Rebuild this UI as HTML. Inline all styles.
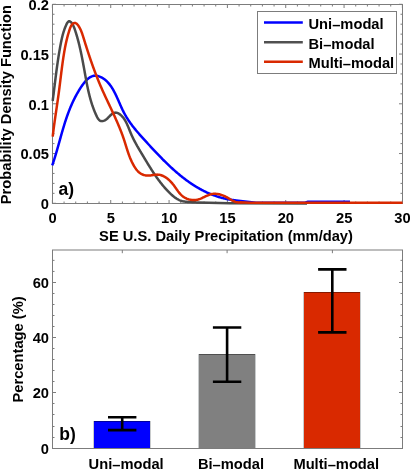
<!DOCTYPE html>
<html><head><meta charset="utf-8"><style>
html,body{margin:0;padding:0;background:#fff;overflow:hidden;font-family:"Liberation Sans",sans-serif}
svg{display:block;will-change:transform}
</style></head><body>
<svg width="410" height="469" viewBox="0 0 410 469">
<rect width="410" height="469" fill="#fff"/>
<path d="M52.4,203.5v-3.5M52.4,4.5v3.5M64.07,203.5v-2M64.07,4.5v2M75.73,203.5v-2M75.73,4.5v2M87.4,203.5v-2M87.4,4.5v2M99.07,203.5v-2M99.07,4.5v2M110.73,203.5v-3.5M110.73,4.5v3.5M122.4,203.5v-2M122.4,4.5v2M134.07,203.5v-2M134.07,4.5v2M145.73,203.5v-2M145.73,4.5v2M157.4,203.5v-2M157.4,4.5v2M169.07,203.5v-3.5M169.07,4.5v3.5M180.73,203.5v-2M180.73,4.5v2M192.4,203.5v-2M192.4,4.5v2M204.07,203.5v-2M204.07,4.5v2M215.73,203.5v-2M215.73,4.5v2M227.4,203.5v-3.5M227.4,4.5v3.5M239.07,203.5v-2M239.07,4.5v2M250.73,203.5v-2M250.73,4.5v2M262.4,203.5v-2M262.4,4.5v2M274.07,203.5v-2M274.07,4.5v2M285.73,203.5v-3.5M285.73,4.5v3.5M297.4,203.5v-2M297.4,4.5v2M309.07,203.5v-2M309.07,4.5v2M320.73,203.5v-2M320.73,4.5v2M332.4,203.5v-2M332.4,4.5v2M344.07,203.5v-3.5M344.07,4.5v3.5M355.73,203.5v-2M355.73,4.5v2M367.4,203.5v-2M367.4,4.5v2M379.07,203.5v-2M379.07,4.5v2M390.73,203.5v-2M390.73,4.5v2M402.4,203.5v-3.5M402.4,4.5v3.5M52.5,203.3h3.5M402.5,203.3h-3.5M52.5,193.35h2M402.5,193.35h-2M52.5,183.4h2M402.5,183.4h-2M52.5,173.45h2M402.5,173.45h-2M52.5,163.5h2M402.5,163.5h-2M52.5,153.55h3.5M402.5,153.55h-3.5M52.5,143.6h2M402.5,143.6h-2M52.5,133.65h2M402.5,133.65h-2M52.5,123.7h2M402.5,123.7h-2M52.5,113.75h2M402.5,113.75h-2M52.5,103.8h3.5M402.5,103.8h-3.5M52.5,93.85h2M402.5,93.85h-2M52.5,83.9h2M402.5,83.9h-2M52.5,73.95h2M402.5,73.95h-2M52.5,64.0h2M402.5,64.0h-2M52.5,54.05h3.5M402.5,54.05h-3.5M52.5,44.1h2M402.5,44.1h-2M52.5,34.15h2M402.5,34.15h-2M52.5,24.2h2M402.5,24.2h-2M52.5,14.25h2M402.5,14.25h-2M52.5,4.3h3.5M402.5,4.3h-3.5" stroke="#7c7c7c" stroke-width="1" fill="none"/>
<rect x="52.5" y="4.5" width="350.0" height="199.0" fill="none" stroke="#7c7c7c" stroke-width="1"/>
<g fill="none" stroke-width="2.5" stroke-linejoin="round" stroke-linecap="butt">
<path d="M52.24,165.39 L52.47,164.73 L52.69,164.07 L52.91,163.41 L53.14,162.75 L53.36,162.09 L53.57,161.43 L53.79,160.76 L54.00,160.10 L54.21,159.44 L54.42,158.77 L54.63,158.11 L54.84,157.44 L55.04,156.78 L55.25,156.11 L55.45,155.44 L55.65,154.78 L55.85,154.11 L56.05,153.44 L56.24,152.78 L56.44,152.11 L56.63,151.44 L56.83,150.77 L57.02,150.10 L57.21,149.43 L57.40,148.76 L57.59,148.09 L57.78,147.42 L57.97,146.75 L58.16,146.08 L58.35,145.41 L58.54,144.74 L58.72,144.07 L58.91,143.40 L59.10,142.73 L59.29,142.06 L59.47,141.39 L59.66,140.72 L59.85,140.05 L60.03,139.38 L60.22,138.71 L60.41,138.04 L60.59,137.37 L60.78,136.69 L60.97,136.02 L61.16,135.35 L61.35,134.68 L61.54,134.01 L61.73,133.34 L61.92,132.67 L62.11,132.00 L62.31,131.33 L62.50,130.66 L62.70,129.99 L62.89,129.33 L63.09,128.66 L63.29,127.99 L63.49,127.32 L63.69,126.65 L63.89,125.99 L64.10,125.32 L64.30,124.65 L64.51,123.98 L64.72,123.32 L64.93,122.65 L65.14,121.99 L65.35,121.32 L65.57,120.66 L65.79,120.00 L66.01,119.33 L66.23,118.67 L66.45,118.01 L66.68,117.35 L66.91,116.68 L67.14,116.02 L67.37,115.36 L67.61,114.70 L67.85,114.05 L68.09,113.39 L68.33,112.73 L68.58,112.07 L68.83,111.42 L69.08,110.76 L69.34,110.11 L69.60,109.45 L69.86,108.80 L70.12,108.15 L70.39,107.50 L70.66,106.85 L70.94,106.20 L71.21,105.55 L71.49,104.90 L71.78,104.25 L72.07,103.60 L72.36,102.96 L72.65,102.31 L72.95,101.67 L73.26,101.03 L73.56,100.39 L73.88,99.74 L74.19,99.10 L74.51,98.47 L74.83,97.83 L75.16,97.19 L75.49,96.56 L75.83,95.92 L76.17,95.29 L76.51,94.66 L76.86,94.02 L77.22,93.39 L77.58,92.77 L77.94,92.14 L78.31,91.51 L78.68,90.89 L79.06,90.26 L79.44,89.64 L79.83,89.02 L80.23,88.40 L80.62,87.78 L81.03,87.16 L81.44,86.55 L81.85,85.94 L82.27,85.33 L82.70,84.73 L83.13,84.14 L83.57,83.56 L84.01,82.98 L84.46,82.42 L84.91,81.88 L85.37,81.34 L85.84,80.82 L86.31,80.32 L86.79,79.84 L87.28,79.38 L87.77,78.94 L88.27,78.52 L88.77,78.12 L89.28,77.75 L89.80,77.41 L90.33,77.09 L90.86,76.80 L91.40,76.54 L91.94,76.31 L92.50,76.12 L93.06,75.96 L93.62,75.83 L94.20,75.75 L94.78,75.70 L95.37,75.68 L95.96,75.71 L96.56,75.77 L97.17,75.86 L97.77,75.99 L98.37,76.15 L98.98,76.33 L99.58,76.55 L100.18,76.79 L100.77,77.05 L101.36,77.34 L101.94,77.64 L102.51,77.97 L103.07,78.31 L103.61,78.68 L104.15,79.05 L104.67,79.44 L105.19,79.85 L105.69,80.27 L106.18,80.70 L106.66,81.15 L107.13,81.61 L107.60,82.08 L108.05,82.57 L108.49,83.07 L108.92,83.58 L109.35,84.10 L109.77,84.63 L110.18,85.17 L110.58,85.72 L110.97,86.29 L111.36,86.86 L111.73,87.44 L112.11,88.03 L112.47,88.63 L112.83,89.23 L113.19,89.84 L113.54,90.46 L113.88,91.09 L114.22,91.73 L114.55,92.36 L114.88,93.01 L115.21,93.66 L115.53,94.31 L115.85,94.97 L116.17,95.64 L116.48,96.30 L116.79,96.98 L117.10,97.65 L117.40,98.33 L117.71,99.00 L118.01,99.68 L118.31,100.37 L118.61,101.05 L118.91,101.73 L119.21,102.42 L119.51,103.10 L119.81,103.78 L120.11,104.47 L120.41,105.15 L120.71,105.83 L121.02,106.51 L121.32,107.18 L121.63,107.86 L121.94,108.53 L122.26,109.19 L122.57,109.86 L122.89,110.51 L123.21,111.17 L123.54,111.82 L123.87,112.46 L124.20,113.10 L124.54,113.73 L124.89,114.36 L125.23,114.98 L125.58,115.60 L125.94,116.21 L126.30,116.81 L126.66,117.42 L127.03,118.01 L127.40,118.60 L127.77,119.19 L128.15,119.77 L128.53,120.35 L128.92,120.93 L129.31,121.50 L129.70,122.07 L130.09,122.63 L130.49,123.19 L130.89,123.74 L131.30,124.30 L131.70,124.85 L132.11,125.39 L132.53,125.93 L132.94,126.47 L133.36,127.01 L133.78,127.55 L134.20,128.08 L134.63,128.61 L135.06,129.14 L135.49,129.66 L135.92,130.18 L136.36,130.70 L136.79,131.22 L137.23,131.74 L137.67,132.26 L138.11,132.77 L138.56,133.29 L139.00,133.80 L139.45,134.31 L139.90,134.82 L140.35,135.33 L140.80,135.84 L141.26,136.35 L141.71,136.85 L142.17,137.36 L142.63,137.87 L143.08,138.38 L143.54,138.88 L144.00,139.39 L144.46,139.90 L144.93,140.41 L145.39,140.92 L145.85,141.43 L146.32,141.94 L146.78,142.45 L147.25,142.96 L147.71,143.47 L148.18,143.98 L148.65,144.49 L149.12,145.00 L149.59,145.51 L150.06,146.02 L150.53,146.54 L151.00,147.05 L151.47,147.56 L151.94,148.07 L152.42,148.59 L152.89,149.10 L153.37,149.61 L153.85,150.12 L154.33,150.63 L154.81,151.14 L155.29,151.65 L155.77,152.16 L156.25,152.67 L156.73,153.18 L157.22,153.69 L157.70,154.20 L158.19,154.71 L158.68,155.22 L159.16,155.72 L159.65,156.23 L160.14,156.73 L160.64,157.24 L161.13,157.74 L161.62,158.24 L162.12,158.75 L162.61,159.25 L163.11,159.75 L163.61,160.25 L164.11,160.74 L164.61,161.24 L165.11,161.73 L165.61,162.23 L166.12,162.72 L166.62,163.21 L167.13,163.70 L167.64,164.19 L168.15,164.68 L168.66,165.17 L169.17,165.65 L169.68,166.14 L170.20,166.62 L170.72,167.10 L171.23,167.58 L171.75,168.05 L172.27,168.53 L172.79,169.00 L173.32,169.47 L173.84,169.94 L174.37,170.41 L174.89,170.87 L175.42,171.34 L175.95,171.80 L176.48,172.26 L177.02,172.72 L177.55,173.17 L178.09,173.62 L178.63,174.07 L179.17,174.52 L179.71,174.97 L180.25,175.41 L180.79,175.85 L181.34,176.29 L181.89,176.73 L182.43,177.16 L182.98,177.60 L183.54,178.02 L184.09,178.45 L184.65,178.87 L185.20,179.29 L185.76,179.71 L186.32,180.13 L186.88,180.54 L187.45,180.95 L188.01,181.35 L188.58,181.76 L189.15,182.16 L189.72,182.56 L190.29,182.95 L190.87,183.34 L191.44,183.73 L192.02,184.11 L192.60,184.49 L193.18,184.87 L193.77,185.25 L194.35,185.62 L194.94,185.99 L195.53,186.35 L196.12,186.71 L196.71,187.07 L197.31,187.42 L197.90,187.77 L198.50,188.12 L199.10,188.46 L199.71,188.80 L200.31,189.13 L200.92,189.46 L201.53,189.79 L202.14,190.11 L202.75,190.43 L203.37,190.75 L203.98,191.06 L204.60,191.37 L205.22,191.67 L205.85,191.97 L206.47,192.26 L207.10,192.55 L207.73,192.84 L208.36,193.12 L208.99,193.40 L209.63,193.67 L210.27,193.94 L210.91,194.20 L211.55,194.46 L212.20,194.71 L212.84,194.96 L213.49,195.21 L214.14,195.45 L214.80,195.68 L215.45,195.91 L216.11,196.14 L216.77,196.36 L217.44,196.58 L218.10,196.79 L218.77,196.99 L219.44,197.19 L220.11,197.39 L220.79,197.58 L221.47,197.76 L222.15,197.94 L222.83,198.12 L223.51,198.29 L224.20,198.45 L224.89,198.61 L225.58,198.77 L226.27,198.91 L226.97,199.06 L227.67,199.19 L228.37,199.32 L229.08,199.45 L229.78,199.57 L230.49,199.68 L231.21,199.79 L231.92,199.89 L232.64,199.99 L233.36,200.08 L234.08,200.16 L234.81,200.24 L235.53,200.32 L236.26,200.38 L245.00,201.40 L256.00,202.80 L305.00,202.80 L308.00,201.80 L330.00,201.70 L350.00,201.80" stroke="#0000ff"/>
<path d="M52.67,100.99 L52.76,100.30 L52.85,99.61 L52.94,98.92 L53.02,98.23 L53.11,97.55 L53.20,96.86 L53.29,96.17 L53.37,95.48 L53.46,94.79 L53.55,94.10 L53.64,93.40 L53.72,92.71 L53.81,92.02 L53.89,91.33 L53.98,90.64 L54.07,89.94 L54.15,89.25 L54.24,88.56 L54.32,87.86 L54.41,87.17 L54.50,86.48 L54.58,85.78 L54.67,85.09 L54.75,84.39 L54.84,83.70 L54.93,83.00 L55.01,82.31 L55.10,81.62 L55.18,80.92 L55.27,80.23 L55.36,79.53 L55.45,78.84 L55.53,78.14 L55.62,77.44 L55.71,76.75 L55.80,76.05 L55.89,75.36 L55.98,74.66 L56.07,73.97 L56.16,73.27 L56.25,72.58 L56.34,71.89 L56.43,71.19 L56.52,70.50 L56.62,69.80 L56.71,69.11 L56.80,68.41 L56.90,67.72 L56.99,67.03 L57.09,66.33 L57.19,65.64 L57.28,64.95 L57.38,64.25 L57.48,63.56 L57.58,62.87 L57.68,62.18 L57.78,61.49 L57.88,60.79 L57.99,60.10 L58.09,59.41 L58.19,58.72 L58.30,58.03 L58.41,57.34 L58.51,56.66 L58.62,55.97 L58.73,55.28 L58.84,54.59 L58.95,53.90 L59.07,53.22 L59.18,52.53 L59.29,51.85 L59.41,51.16 L59.53,50.48 L59.65,49.79 L59.77,49.11 L59.89,48.43 L60.01,47.74 L60.13,47.06 L60.26,46.38 L60.38,45.70 L60.51,45.02 L60.64,44.34 L60.77,43.67 L60.90,42.99 L61.03,42.31 L61.17,41.63 L61.31,40.96 L61.45,40.28 L61.60,39.61 L61.74,38.93 L61.90,38.25 L62.05,37.58 L62.22,36.90 L62.38,36.22 L62.56,35.54 L62.74,34.86 L62.92,34.18 L63.12,33.50 L63.32,32.82 L63.52,32.13 L63.74,31.45 L63.96,30.76 L64.19,30.07 L64.43,29.38 L64.68,28.69 L64.94,27.99 L65.22,27.30 L65.50,26.60 L65.79,25.90 L66.09,25.19 L66.41,24.50 L66.73,23.83 L67.07,23.20 L67.42,22.63 L67.79,22.14 L68.17,21.74 L68.57,21.44 L68.98,21.27 L69.40,21.24 L69.84,21.36 L70.29,21.61 L70.74,21.97 L71.19,22.42 L71.63,22.95 L72.06,23.55 L72.48,24.20 L72.87,24.87 L73.23,25.56 L73.56,26.24 L73.87,26.92 L74.14,27.60 L74.40,28.27 L74.64,28.94 L74.87,29.60 L75.09,30.27 L75.31,30.93 L75.53,31.60 L75.74,32.27 L75.95,32.94 L76.16,33.61 L76.36,34.28 L76.57,34.95 L76.76,35.62 L76.96,36.29 L77.15,36.96 L77.35,37.63 L77.53,38.31 L77.72,38.98 L77.90,39.66 L78.08,40.33 L78.26,41.01 L78.44,41.68 L78.61,42.36 L78.78,43.04 L78.95,43.72 L79.12,44.39 L79.29,45.07 L79.45,45.75 L79.61,46.43 L79.77,47.11 L79.93,47.79 L80.08,48.47 L80.24,49.16 L80.39,49.84 L80.54,50.52 L80.69,51.20 L80.84,51.88 L80.98,52.57 L81.13,53.25 L81.27,53.93 L81.41,54.62 L81.55,55.30 L81.69,55.99 L81.83,56.67 L81.96,57.36 L82.10,58.04 L82.23,58.73 L82.37,59.41 L82.50,60.10 L82.63,60.78 L82.76,61.47 L82.89,62.16 L83.02,62.84 L83.15,63.53 L83.27,64.22 L83.40,64.90 L83.53,65.59 L83.65,66.28 L83.78,66.96 L83.90,67.65 L84.03,68.34 L84.15,69.02 L84.28,69.71 L84.40,70.40 L84.53,71.09 L84.65,71.77 L84.77,72.46 L84.90,73.15 L85.02,73.83 L85.14,74.52 L85.27,75.21 L85.39,75.89 L85.52,76.58 L85.64,77.26 L85.77,77.95 L85.89,78.64 L86.02,79.32 L86.15,80.01 L86.27,80.69 L86.40,81.38 L86.53,82.06 L86.66,82.75 L86.80,83.43 L86.93,84.12 L87.07,84.80 L87.20,85.48 L87.34,86.17 L87.48,86.85 L87.62,87.53 L87.77,88.21 L87.91,88.89 L88.06,89.58 L88.21,90.26 L88.36,90.94 L88.52,91.62 L88.67,92.30 L88.83,92.98 L89.00,93.65 L89.16,94.33 L89.33,95.01 L89.50,95.69 L89.67,96.36 L89.85,97.04 L90.03,97.71 L90.22,98.39 L90.40,99.06 L90.59,99.74 L90.79,100.41 L90.99,101.08 L91.19,101.76 L91.39,102.43 L91.60,103.10 L91.82,103.77 L92.03,104.44 L92.26,105.11 L92.48,105.77 L92.71,106.44 L92.95,107.11 L93.19,107.77 L93.43,108.44 L93.68,109.10 L93.94,109.76 L94.20,110.43 L94.46,111.09 L94.73,111.75 L95.01,112.41 L95.29,113.07 L95.57,113.73 L95.86,114.38 L96.16,115.04 L96.47,115.69 L96.78,116.35 L97.09,116.99 L97.43,117.61 L97.77,118.21 L98.14,118.77 L98.53,119.30 L98.94,119.77 L99.39,120.18 L99.86,120.54 L100.37,120.81 L100.91,121.01 L101.50,121.12 L102.13,121.13 L102.79,121.05 L103.48,120.89 L104.17,120.65 L104.85,120.33 L105.52,119.96 L106.15,119.53 L106.75,119.05 L107.32,118.53 L107.87,117.99 L108.41,117.43 L108.94,116.87 L109.46,116.30 L110.00,115.75 L110.55,115.23 L111.12,114.73 L111.70,114.27 L112.29,113.86 L112.89,113.49 L113.49,113.18 L114.10,112.93 L114.72,112.75 L115.34,112.64 L115.96,112.62 L116.58,112.68 L117.20,112.84 L117.81,113.08 L118.42,113.39 L119.00,113.74 L119.56,114.12 L120.10,114.51 L120.62,114.93 L121.13,115.37 L121.61,115.83 L122.08,116.30 L122.52,116.80 L122.96,117.31 L123.37,117.84 L123.78,118.38 L124.17,118.94 L124.54,119.51 L124.90,120.09 L125.26,120.69 L125.60,121.30 L125.93,121.92 L126.25,122.54 L126.56,123.18 L126.87,123.82 L127.17,124.47 L127.46,125.13 L127.75,125.79 L128.03,126.46 L128.31,127.13 L128.58,127.80 L128.86,128.48 L129.13,129.15 L129.40,129.83 L129.67,130.51 L129.94,131.18 L130.22,131.85 L130.49,132.52 L130.77,133.19 L131.05,133.85 L131.34,134.50 L131.63,135.15 L131.92,135.80 L132.22,136.44 L132.52,137.08 L132.83,137.72 L133.13,138.35 L133.44,138.97 L133.76,139.60 L134.07,140.22 L134.39,140.84 L134.72,141.45 L135.04,142.06 L135.37,142.67 L135.70,143.28 L136.03,143.89 L136.36,144.49 L136.70,145.09 L137.04,145.69 L137.37,146.29 L137.72,146.88 L138.06,147.48 L138.40,148.07 L138.75,148.66 L139.10,149.26 L139.45,149.85 L139.80,150.44 L140.15,151.03 L140.50,151.62 L140.85,152.21 L141.21,152.80 L141.56,153.39 L141.92,153.98 L142.27,154.58 L142.63,155.17 L142.98,155.76 L143.34,156.36 L143.69,156.95 L144.05,157.55 L144.41,158.15 L144.77,158.74 L145.13,159.34 L145.49,159.94 L145.85,160.54 L146.21,161.13 L146.57,161.73 L146.93,162.33 L147.30,162.93 L147.66,163.53 L148.03,164.13 L148.40,164.72 L148.77,165.32 L149.14,165.92 L149.51,166.52 L149.88,167.11 L150.25,167.71 L150.63,168.30 L151.00,168.89 L151.38,169.49 L151.76,170.08 L152.14,170.67 L152.53,171.26 L152.91,171.85 L153.30,172.44 L153.69,173.02 L154.08,173.61 L154.47,174.19 L154.87,174.77 L155.26,175.35 L155.66,175.93 L156.07,176.51 L156.47,177.09 L156.87,177.66 L157.28,178.23 L157.69,178.80 L158.11,179.37 L158.52,179.93 L158.94,180.49 L159.36,181.05 L159.78,181.61 L160.21,182.17 L160.64,182.72 L161.07,183.27 L161.51,183.82 L161.94,184.36 L162.38,184.91 L162.83,185.44 L163.27,185.98 L163.72,186.51 L164.18,187.04 L164.63,187.57 L165.09,188.09 L165.56,188.61 L166.02,189.13 L166.49,189.64 L166.97,190.15 L167.44,190.66 L167.92,191.16 L168.41,191.66 L168.90,192.15 L169.39,192.64 L169.88,193.13 L170.38,193.61 L170.89,194.09 L171.40,194.56 L171.91,195.03 L172.43,195.49 L172.95,195.94 L173.48,196.38 L174.02,196.81 L174.56,197.23 L175.12,197.64 L175.68,198.03 L176.25,198.41 L176.83,198.78 L177.42,199.12 L178.01,199.45 L178.62,199.76 L179.24,200.06 L179.88,200.33 L180.52,200.58 L181.18,200.81 L181.85,201.01 L182.53,201.19 L183.22,201.35 L183.93,201.49 L184.64,201.60 L185.36,201.71 L186.09,201.79 L186.82,201.86 L187.56,201.92 L188.29,201.97 L189.03,202.02 L189.77,202.05 L190.50,202.08 L191.23,202.11 L191.95,202.14 L192.67,202.16 L193.38,202.19 L194.08,202.23 L194.76,202.27 L195.44,202.31 L196.10,202.37 L196.74,202.44 L197.37,202.52 L197.98,202.62 L230.00,203.30 L307.00,203.60" stroke="#4a4a4a"/>
<path d="M52.71,136.53 L52.79,135.82 L52.88,135.12 L52.96,134.42 L53.04,133.71 L53.13,133.01 L53.21,132.31 L53.30,131.61 L53.39,130.91 L53.48,130.21 L53.56,129.52 L53.65,128.82 L53.75,128.12 L53.84,127.43 L53.93,126.73 L54.02,126.04 L54.12,125.34 L54.21,124.65 L54.31,123.96 L54.40,123.26 L54.50,122.57 L54.59,121.88 L54.69,121.19 L54.79,120.50 L54.89,119.81 L54.99,119.12 L55.09,118.43 L55.18,117.74 L55.28,117.05 L55.38,116.36 L55.48,115.67 L55.59,114.98 L55.69,114.29 L55.79,113.61 L55.89,112.92 L55.99,112.23 L56.09,111.54 L56.19,110.85 L56.29,110.17 L56.39,109.48 L56.50,108.79 L56.60,108.10 L56.70,107.41 L56.80,106.73 L56.90,106.04 L57.00,105.35 L57.10,104.66 L57.20,103.97 L57.30,103.28 L57.40,102.59 L57.50,101.91 L57.60,101.22 L57.70,100.53 L57.80,99.84 L57.90,99.15 L57.99,98.45 L58.09,97.76 L58.19,97.07 L58.28,96.38 L58.38,95.69 L58.48,94.99 L58.57,94.30 L58.66,93.61 L58.76,92.91 L58.85,92.22 L58.94,91.52 L59.03,90.82 L59.12,90.13 L59.21,89.43 L59.30,88.73 L59.39,88.03 L59.48,87.34 L59.57,86.64 L59.65,85.94 L59.74,85.24 L59.83,84.54 L59.91,83.84 L60.00,83.14 L60.09,82.44 L60.17,81.74 L60.26,81.04 L60.34,80.34 L60.43,79.64 L60.52,78.94 L60.60,78.24 L60.69,77.54 L60.77,76.84 L60.86,76.14 L60.95,75.44 L61.03,74.74 L61.12,74.04 L61.21,73.34 L61.29,72.64 L61.38,71.95 L61.47,71.25 L61.56,70.55 L61.65,69.85 L61.74,69.16 L61.83,68.46 L61.92,67.77 L62.01,67.07 L62.10,66.38 L62.19,65.68 L62.29,64.99 L62.38,64.30 L62.47,63.61 L62.57,62.91 L62.67,62.22 L62.76,61.54 L62.86,60.85 L62.96,60.16 L63.06,59.47 L63.16,58.79 L63.27,58.10 L63.37,57.42 L63.47,56.74 L63.58,56.06 L63.69,55.38 L63.80,54.70 L63.91,54.02 L64.02,53.34 L64.13,52.67 L64.24,51.99 L64.36,51.32 L64.48,50.65 L64.60,49.97 L64.72,49.30 L64.84,48.63 L64.96,47.96 L65.09,47.29 L65.22,46.62 L65.36,45.95 L65.49,45.28 L65.63,44.60 L65.77,43.93 L65.92,43.25 L66.07,42.58 L66.22,41.90 L66.37,41.21 L66.53,40.53 L66.70,39.84 L66.87,39.15 L67.04,38.46 L67.22,37.76 L67.40,37.06 L67.58,36.35 L67.78,35.65 L67.97,34.93 L68.17,34.22 L68.38,33.49 L68.60,32.77 L68.81,32.03 L69.04,31.29 L69.27,30.55 L69.51,29.80 L69.76,29.06 L70.02,28.33 L70.30,27.62 L70.59,26.93 L70.91,26.27 L71.25,25.65 L71.61,25.08 L72.01,24.55 L72.44,24.08 L72.89,23.68 L73.36,23.36 L73.85,23.12 L74.34,22.98 L74.83,22.94 L75.32,23.02 L75.81,23.20 L76.28,23.48 L76.74,23.84 L77.20,24.27 L77.64,24.76 L78.07,25.30 L78.48,25.88 L78.88,26.50 L79.26,27.13 L79.62,27.77 L79.96,28.41 L80.29,29.06 L80.60,29.71 L80.89,30.36 L81.17,31.02 L81.44,31.68 L81.69,32.35 L81.94,33.01 L82.18,33.68 L82.41,34.35 L82.63,35.02 L82.85,35.69 L83.06,36.36 L83.27,37.04 L83.48,37.71 L83.69,38.38 L83.90,39.06 L84.10,39.73 L84.31,40.40 L84.52,41.07 L84.73,41.74 L84.94,42.41 L85.15,43.09 L85.36,43.76 L85.57,44.43 L85.78,45.10 L86.00,45.76 L86.21,46.43 L86.42,47.10 L86.63,47.77 L86.85,48.44 L87.06,49.10 L87.28,49.77 L87.49,50.44 L87.71,51.10 L87.93,51.77 L88.14,52.44 L88.36,53.10 L88.58,53.77 L88.80,54.43 L89.02,55.09 L89.24,55.76 L89.46,56.42 L89.68,57.08 L89.91,57.74 L90.13,58.41 L90.36,59.07 L90.58,59.73 L90.81,60.39 L91.04,61.05 L91.26,61.71 L91.49,62.37 L91.72,63.03 L91.95,63.69 L92.19,64.34 L92.42,65.00 L92.65,65.66 L92.89,66.31 L93.12,66.97 L93.36,67.63 L93.60,68.28 L93.84,68.94 L94.08,69.59 L94.32,70.25 L94.56,70.90 L94.81,71.55 L95.05,72.20 L95.30,72.86 L95.55,73.51 L95.80,74.16 L96.05,74.81 L96.30,75.46 L96.55,76.11 L96.80,76.76 L97.06,77.41 L97.32,78.06 L97.58,78.70 L97.83,79.35 L98.10,80.00 L98.36,80.64 L98.62,81.29 L98.89,81.94 L99.15,82.58 L99.42,83.22 L99.69,83.87 L99.96,84.51 L100.24,85.15 L100.51,85.80 L100.79,86.44 L101.07,87.08 L101.35,87.72 L101.63,88.36 L101.91,89.00 L102.19,89.64 L102.48,90.28 L102.76,90.92 L103.05,91.56 L103.34,92.19 L103.63,92.83 L103.92,93.47 L104.21,94.10 L104.50,94.74 L104.80,95.38 L105.09,96.01 L105.38,96.65 L105.68,97.28 L105.98,97.92 L106.27,98.55 L106.57,99.19 L106.87,99.82 L107.17,100.46 L107.46,101.09 L107.76,101.73 L108.06,102.36 L108.36,103.00 L108.66,103.63 L108.96,104.27 L109.26,104.90 L109.56,105.53 L109.86,106.17 L110.16,106.80 L110.46,107.44 L110.76,108.07 L111.06,108.71 L111.35,109.34 L111.65,109.97 L111.95,110.61 L112.25,111.24 L112.54,111.88 L112.84,112.52 L113.13,113.15 L113.43,113.79 L113.72,114.42 L114.02,115.06 L114.31,115.70 L114.60,116.33 L114.89,116.97 L115.18,117.61 L115.47,118.25 L115.75,118.89 L116.04,119.52 L116.32,120.16 L116.60,120.80 L116.89,121.44 L117.17,122.08 L117.45,122.73 L117.72,123.37 L118.00,124.01 L118.27,124.65 L118.54,125.30 L118.81,125.94 L119.08,126.58 L119.35,127.23 L119.61,127.87 L119.88,128.52 L120.14,129.17 L120.40,129.82 L120.65,130.46 L120.91,131.11 L121.16,131.76 L121.41,132.41 L121.66,133.06 L121.90,133.72 L122.15,134.37 L122.39,135.02 L122.62,135.68 L122.86,136.33 L123.09,136.99 L123.32,137.65 L123.55,138.31 L123.77,138.96 L123.99,139.62 L124.21,140.29 L124.43,140.95 L124.64,141.61 L124.85,142.27 L125.06,142.94 L125.27,143.60 L125.48,144.27 L125.68,144.93 L125.89,145.60 L126.10,146.26 L126.30,146.93 L126.51,147.59 L126.72,148.26 L126.93,148.92 L127.14,149.59 L127.36,150.25 L127.57,150.91 L127.79,151.58 L128.01,152.24 L128.24,152.90 L128.47,153.56 L128.70,154.22 L128.94,154.88 L129.18,155.53 L129.42,156.19 L129.68,156.85 L129.93,157.50 L130.20,158.15 L130.47,158.80 L130.74,159.45 L131.02,160.09 L131.31,160.74 L131.61,161.38 L131.91,162.02 L132.23,162.66 L132.55,163.29 L132.88,163.93 L133.22,164.56 L133.57,165.19 L133.93,165.81 L134.29,166.43 L134.67,167.05 L135.06,167.66 L135.47,168.25 L135.88,168.84 L136.31,169.41 L136.75,169.96 L137.20,170.50 L137.67,171.02 L138.16,171.52 L138.65,171.99 L139.17,172.44 L139.70,172.86 L140.25,173.26 L140.81,173.62 L141.39,173.95 L141.99,174.25 L142.60,174.52 L143.22,174.76 L143.86,174.97 L144.51,175.15 L145.16,175.30 L145.83,175.41 L146.51,175.50 L147.19,175.56 L147.89,175.59 L148.58,175.58 L149.28,175.55 L149.99,175.49 L150.70,175.41 L151.41,175.31 L152.12,175.20 L152.84,175.09 L153.55,174.98 L154.27,174.87 L154.98,174.78 L155.69,174.70 L156.40,174.65 L157.10,174.62 L157.80,174.63 L158.50,174.68 L159.19,174.76 L159.87,174.89 L160.54,175.05 L161.21,175.24 L161.87,175.47 L162.52,175.72 L163.16,176.00 L163.79,176.31 L164.41,176.64 L165.02,176.99 L165.61,177.36 L166.19,177.74 L166.76,178.14 L167.32,178.56 L167.86,178.98 L168.39,179.43 L168.91,179.88 L169.42,180.35 L169.92,180.83 L170.41,181.32 L170.88,181.83 L171.35,182.34 L171.82,182.86 L172.27,183.40 L172.72,183.94 L173.16,184.49 L173.59,185.05 L174.02,185.62 L174.44,186.20 L174.85,186.78 L175.27,187.36 L175.68,187.95 L176.09,188.55 L176.50,189.14 L176.91,189.72 L177.33,190.31 L177.75,190.89 L178.17,191.46 L178.61,192.03 L179.05,192.59 L179.50,193.13 L179.96,193.66 L180.43,194.18 L180.92,194.68 L181.42,195.16 L181.93,195.62 L182.46,196.06 L183.01,196.48 L183.57,196.88 L184.15,197.26 L184.74,197.61 L185.35,197.95 L185.96,198.25 L186.59,198.54 L187.22,198.80 L187.87,199.04 L188.52,199.25 L189.18,199.44 L189.85,199.60 L190.53,199.74 L191.20,199.85 L191.89,199.94 L192.57,200.00 L193.26,200.03 L193.95,200.04 L194.64,200.02 L195.33,199.97 L196.01,199.89 L196.70,199.79 L197.38,199.66 L198.06,199.50 L198.73,199.31 L199.40,199.09 L200.07,198.85 L200.73,198.59 L201.39,198.32 L202.05,198.03 L202.70,197.73 L203.35,197.42 L204.01,197.11 L204.66,196.79 L205.31,196.48 L205.96,196.17 L206.60,195.87 L207.25,195.58 L207.91,195.30 L208.56,195.03 L209.21,194.79 L209.87,194.57 L210.53,194.37 L211.19,194.20 L211.86,194.06 L212.53,193.95 L213.20,193.87 L213.87,193.82 L214.55,193.80 L215.22,193.80 L215.90,193.83 L216.58,193.88 L217.25,193.96 L217.93,194.06 L218.60,194.18 L219.28,194.33 L219.95,194.49 L220.62,194.68 L221.29,194.88 L221.95,195.11 L222.61,195.35 L223.27,195.60 L223.92,195.88 L224.56,196.17 L225.20,196.47 L225.84,196.79 L226.47,197.12 L227.09,197.46 L227.71,197.81 L228.31,198.17 L228.92,198.54 L229.52,198.90 L230.13,199.27 L230.73,199.62 L231.33,199.98 L231.94,200.31 L232.55,200.64 L233.17,200.95 L233.80,201.23 L234.43,201.50 L235.08,201.73 L235.73,201.94 L236.41,202.11 L237.09,202.25 L237.80,202.34 L238.52,202.40 L239.26,202.40 L240.02,202.36 L250.00,202.80 L402.50,202.80" stroke="#d92900"/>
</g>
<text x="49" y="209.1" text-anchor="end" font-family="'Liberation Sans', sans-serif" font-weight="bold" font-size="14.7">0</text>
<text x="49" y="159.3" text-anchor="end" font-family="'Liberation Sans', sans-serif" font-weight="bold" font-size="14.7">0.05</text>
<text x="49" y="109.6" text-anchor="end" font-family="'Liberation Sans', sans-serif" font-weight="bold" font-size="14.7">0.1</text>
<text x="49" y="59.9" text-anchor="end" font-family="'Liberation Sans', sans-serif" font-weight="bold" font-size="14.7">0.15</text>
<text x="49" y="10.1" text-anchor="end" font-family="'Liberation Sans', sans-serif" font-weight="bold" font-size="14.7">0.2</text>
<text x="52.50" y="223.3" text-anchor="middle" font-family="'Liberation Sans', sans-serif" font-weight="bold" font-size="14.7">0</text>
<text x="110.83" y="223.3" text-anchor="middle" font-family="'Liberation Sans', sans-serif" font-weight="bold" font-size="14.7">5</text>
<text x="169.17" y="223.3" text-anchor="middle" font-family="'Liberation Sans', sans-serif" font-weight="bold" font-size="14.7">10</text>
<text x="227.50" y="223.3" text-anchor="middle" font-family="'Liberation Sans', sans-serif" font-weight="bold" font-size="14.7">15</text>
<text x="285.83" y="223.3" text-anchor="middle" font-family="'Liberation Sans', sans-serif" font-weight="bold" font-size="14.7">20</text>
<text x="344.17" y="223.3" text-anchor="middle" font-family="'Liberation Sans', sans-serif" font-weight="bold" font-size="14.7">25</text>
<text x="402.50" y="223.3" text-anchor="middle" font-family="'Liberation Sans', sans-serif" font-weight="bold" font-size="14.7">30</text>
<text x="99.1" y="241" font-family="'Liberation Sans', sans-serif" font-weight="bold" font-size="14.7">SE U.S. Daily Precipitation (mm/day)</text>
<text transform="translate(11.2,204.2) rotate(-90)" font-family="'Liberation Sans', sans-serif" font-weight="bold" font-size="14.7">Probability Density Function</text>
<text x="58.5" y="194.5" font-family="'Liberation Sans', sans-serif" font-weight="bold" font-size="17.5">a)</text>
<rect x="257.5" y="11.5" width="139" height="62" fill="#fff" stroke="#7c7c7c" stroke-width="1"/>
<path d="M264,22.5H302.8" stroke="#0000ff" stroke-width="2.5"/>
<text x="308.5" y="29.1" font-family="'Liberation Sans', sans-serif" font-weight="bold" font-size="14.7">Uni<tspan dy="0.9">–</tspan><tspan dy="-0.9">modal</tspan></text>
<path d="M264,42.2H302.8" stroke="#505050" stroke-width="2.5"/>
<text x="308.5" y="48.8" font-family="'Liberation Sans', sans-serif" font-weight="bold" font-size="14.7">Bi<tspan dy="0.9">–</tspan><tspan dy="-0.9">modal</tspan></text>
<path d="M264,61.7H302.8" stroke="#d92900" stroke-width="2.5"/>
<text x="308.5" y="68.3" font-family="'Liberation Sans', sans-serif" font-weight="bold" font-size="14.7">Multi<tspan dy="0.9">–</tspan><tspan dy="-0.9">modal</tspan></text>
<rect x="94" y="421" width="56" height="27" fill="#0000ff"/>
<path d="M93.5,421V448M150.5,421V448" stroke="#9aa0a2" stroke-opacity="0.55" stroke-width="1"/>
<path d="M94,421.5h56" stroke="#000" stroke-opacity="0.38" stroke-width="1"/>
<rect x="199" y="354" width="56" height="94" fill="#808080"/>
<path d="M198.5,354V448M255.5,354V448" stroke="#9aa0a2" stroke-opacity="0.55" stroke-width="1"/>
<path d="M199,354.5h56" stroke="#000" stroke-opacity="0.38" stroke-width="1"/>
<rect x="304" y="292" width="56" height="156" fill="#d92900"/>
<path d="M303.5,292V448M360.5,292V448" stroke="#9aa0a2" stroke-opacity="0.55" stroke-width="1"/>
<path d="M304,292.5h56" stroke="#000" stroke-opacity="0.38" stroke-width="1"/>
<path d="M122.2,417.2V430.1M108.0,417.2h28.4M108.0,430.1h28.4" stroke="#000" stroke-width="2.6" fill="none"/>
<path d="M227.1,327.5V381.7M212.9,327.5h28.4M212.9,381.7h28.4" stroke="#000" stroke-width="2.6" fill="none"/>
<path d="M332.3,269.4V332.4M318.1,269.4h28.4M318.1,332.4h28.4" stroke="#000" stroke-width="2.6" fill="none"/>
<path d="M52.5,448.5h3.5M402.5,448.5h-3.5M52.5,437.5h2M402.5,437.5h-2M52.5,426.5h2M402.5,426.5h-2M52.5,414.5h2M402.5,414.5h-2M52.5,403.5h2M402.5,403.5h-2M52.5,392.5h3.5M402.5,392.5h-3.5M52.5,381.5h2M402.5,381.5h-2M52.5,370.5h2M402.5,370.5h-2M52.5,359.5h2M402.5,359.5h-2M52.5,348.5h2M402.5,348.5h-2M52.5,337.5h3.5M402.5,337.5h-3.5M52.5,326.5h2M402.5,326.5h-2M52.5,315.5h2M402.5,315.5h-2M52.5,304.5h2M402.5,304.5h-2M52.5,293.5h2M402.5,293.5h-2M52.5,282.5h3.5M402.5,282.5h-3.5M52.5,271.43617021276594h2M402.5,271.43617021276594h-2M52.5,260.3723404255319h2M402.5,260.3723404255319h-2M122.3,250.0v3.2M227.1,250.0v3.2M332.4,250.0v3.2" stroke="#7c7c7c" stroke-width="1" fill="none"/>
<rect x="52.5" y="250.0" width="350.0" height="198.5" fill="none" stroke="#7c7c7c" stroke-width="1"/>
<text x="49" y="453.9" text-anchor="end" font-family="'Liberation Sans', sans-serif" font-weight="bold" font-size="14.7">0</text>
<text x="49" y="397.9" text-anchor="end" font-family="'Liberation Sans', sans-serif" font-weight="bold" font-size="14.7">20</text>
<text x="49" y="342.9" text-anchor="end" font-family="'Liberation Sans', sans-serif" font-weight="bold" font-size="14.7">40</text>
<text x="49" y="287.9" text-anchor="end" font-family="'Liberation Sans', sans-serif" font-weight="bold" font-size="14.7">60</text>
<text x="88.6" y="468.9" font-family="'Liberation Sans', sans-serif" font-weight="bold" font-size="14.7">Uni<tspan dy="1.4">–</tspan><tspan dy="-1.4">modal</tspan></text>
<text x="197.9" y="468.9" font-family="'Liberation Sans', sans-serif" font-weight="bold" font-size="14.7">Bi<tspan dy="1.4">–</tspan><tspan dy="-1.4">modal</tspan></text>
<text x="293.40000000000003" y="468.9" font-family="'Liberation Sans', sans-serif" font-weight="bold" font-size="14.7">Multi<tspan dy="1.4">–</tspan><tspan dy="-1.4">modal</tspan></text>
<text transform="translate(22.9,402.5) rotate(-90)" font-family="'Liberation Sans', sans-serif" font-weight="bold" font-size="14.7">Percentage (%)</text>
<text x="59.3" y="440" font-family="'Liberation Sans', sans-serif" font-weight="bold" font-size="17.5">b)</text>
</svg>
</body></html>
